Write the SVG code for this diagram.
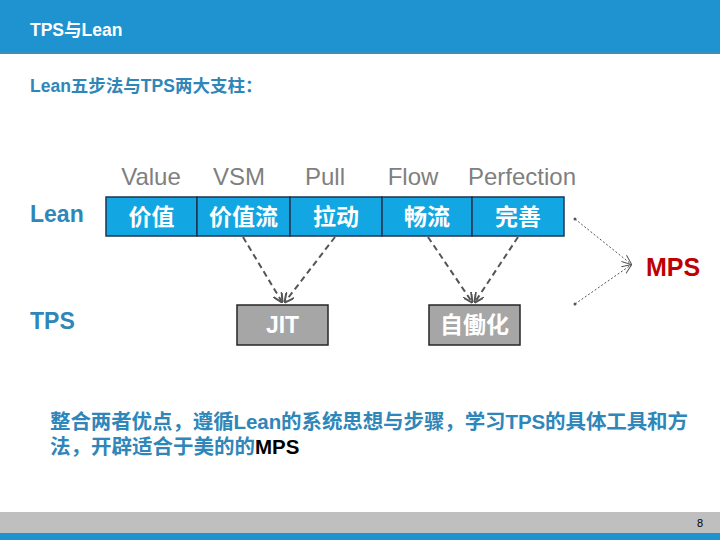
<svg xmlns="http://www.w3.org/2000/svg" width="720" height="540" viewBox="0 0 720 540">
<style>
.cjk{font-family:"Liberation Sans","Noto Sans CJK SC",sans-serif;}
.hdr{font-size:17.5px;font-weight:bold;fill:#ffffff;}
.blue{fill:#2f86b9;font-weight:bold;}
.en{font-size:24px;fill:#7f7f7f;text-anchor:middle;}
.step rect{fill:#12a6e2;stroke:#1f3550;stroke-width:1.5;}
.step text{font-size:23px;font-weight:bold;fill:#ffffff;text-anchor:middle;}
.tool rect{fill:#a6a6a6;stroke:#262626;stroke-width:1.5;}
.tool text{font-size:23px;font-weight:bold;fill:#ffffff;text-anchor:middle;}
.dash{stroke:#555555;stroke-width:2;stroke-dasharray:6 4;fill:none;}
.dot{stroke:#555555;stroke-width:1;stroke-dasharray:2 2;fill:none;}
</style>
<defs>
<marker id="ah" viewBox="0 0 10 10" refX="9" refY="5" markerWidth="5" markerHeight="5" orient="auto" markerUnits="strokeWidth">
<path d="M0,0 L10,5 L0,10" fill="none" stroke="#555555" stroke-width="2"/>
</marker>
<marker id="ah2" viewBox="0 0 10 10" refX="9" refY="5" markerWidth="10" markerHeight="10" orient="auto" markerUnits="strokeWidth">
<path d="M0,1 L10,5 L0,9" fill="none" stroke="#555555" stroke-width="1"/>
</marker>
</defs>
<rect x="0" y="0" width="720" height="540" fill="#ffffff"/>
<rect x="0" y="0" width="720" height="53" fill="#1f93d0"/>
<rect x="0" y="52" width="720" height="2" fill="#3a8fb8"/>
<text class="cjk hdr" x="30" y="36">TPS与Lean</text>
<text class="cjk blue" x="30" y="92" font-size="17.5">Lean五步法与TPS两大支柱：</text>

<text class="cjk blue" x="30" y="222" font-size="23">Lean</text>
<text class="cjk blue" x="30" y="329" font-size="23">TPS</text>

<g id="labels">
<text class="cjk en" x="151" y="185">Value</text>
<text class="cjk en" x="239" y="185">VSM</text>
<text class="cjk en" x="325" y="185">Pull</text>
<text class="cjk en" x="413" y="185">Flow</text>
<text class="cjk en" x="522" y="185">Perfection</text>
</g>

<g id="step-value" class="step"><rect x="106" y="197" width="91" height="39"/><text class="cjk" x="151.5" y="225">价值</text></g>
<g id="step-vsm" class="step"><rect x="197" y="197" width="93" height="39"/><text class="cjk" x="243.5" y="225">价值流</text></g>
<g id="step-pull" class="step"><rect x="290" y="197" width="92" height="39"/><text class="cjk" x="336" y="225">拉动</text></g>
<g id="step-flow" class="step"><rect x="382" y="197" width="90" height="39"/><text class="cjk" x="427" y="225">畅流</text></g>
<g id="step-perfection" class="step"><rect x="472" y="197" width="92" height="39"/><text class="cjk" x="518" y="225">完善</text></g>

<g id="tool-jit" class="tool"><rect x="237" y="305" width="91" height="40"/><text class="cjk" x="282.5" y="333">JIT</text></g>
<g id="tool-jidoka" class="tool"><rect x="429" y="305" width="91" height="40"/><text class="cjk" x="474.5" y="333">自働化</text></g>

<g id="connectors">
<line class="dash" x1="243" y1="237" x2="282" y2="302" marker-end="url(#ah)"/>
<line class="dash" x1="335" y1="237" x2="285" y2="302" marker-end="url(#ah)"/>
<line class="dash" x1="428" y1="237" x2="472" y2="302" marker-end="url(#ah)"/>
<line class="dash" x1="518" y1="237" x2="475" y2="302" marker-end="url(#ah)"/>
<line class="dot" x1="575" y1="219" x2="631" y2="264" marker-end="url(#ah2)"/>
<line class="dot" x1="575" y1="304" x2="631" y2="265" marker-end="url(#ah2)"/>
<circle cx="575" cy="219" r="1.5" fill="#555555"/>
<circle cx="575" cy="304" r="1.5" fill="#555555"/>
</g>

<text class="cjk" x="646" y="276" font-size="25" font-weight="bold" fill="#c00000">MPS</text>

<text class="cjk blue" x="50" y="429" font-size="20.5" textLength="638" lengthAdjust="spacing">整合两者优点，遵循Lean的系统思想与步骤，学习TPS的具体工具和方</text>
<text class="cjk blue" x="50" y="454" font-size="20.5">法，开辟适合于美的的<tspan fill="#000000">MPS</tspan></text>

<rect x="0" y="512" width="720" height="21" fill="#bfbfbf"/>
<rect x="0" y="533" width="720" height="7" fill="#1f93d0"/>
<text class="cjk" x="697" y="527" font-size="11" fill="#000000">8</text>
</svg>
